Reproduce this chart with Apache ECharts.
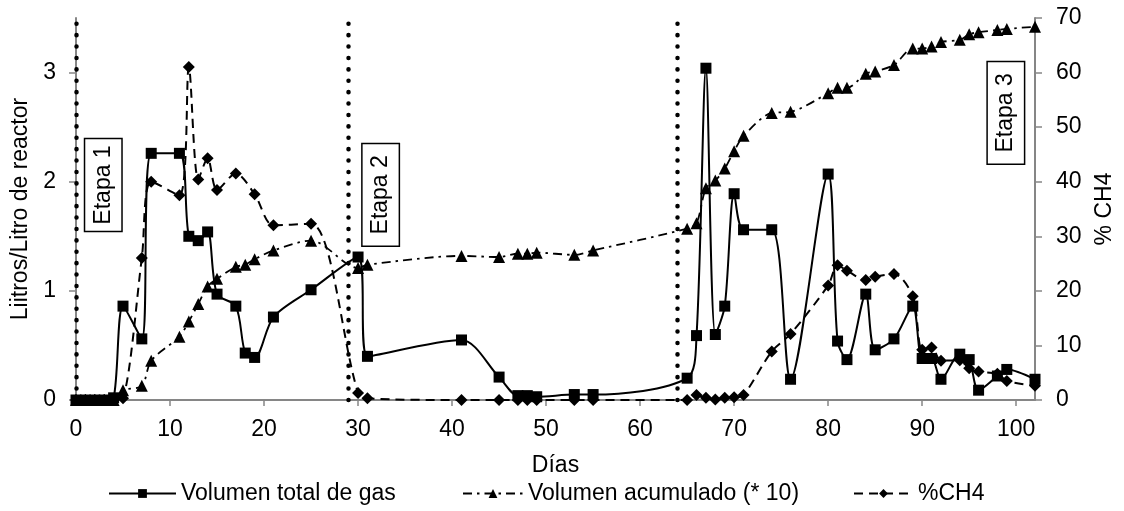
<!DOCTYPE html>
<html>
<head>
<meta charset="utf-8">
<script src="https://cdn.jsdelivr.net/npm/echarts/dist/echarts.min.js"></script>
<style>
html,body{margin:0;padding:0;background:#fff;}
#chart{width:1124px;height:511px;}
</style>
</head>
<body>
<div id="chart"></div>
<script>
// ---- data ----
const days = [0,1,2,3,4,5,7,8,11,12,13,14,15,17,18,19,21,25,30,31,41,45,47,48,49,53,55,65,66,67,68,69,70,71,74,76,80,81,82,84,85,87,89,90,91,92,94,95,96,98,99,102];
const volumenTotal = [0,0,0,0,0.02,0.86,0.56,2.26,2.26,1.5,1.46,1.54,0.97,0.86,0.43,0.39,0.76,1.01,1.31,0.4,0.55,0.21,0.04,0.04,0.03,0.05,0.05,0.2,0.59,3.04,0.6,0.86,1.89,1.56,1.56,0.19,2.07,0.54,0.37,0.97,0.46,0.56,0.86,0.38,0.38,0.19,0.42,0.37,0.09,0.22,0.28,0.19];
const volumenAcumulado = [0,0,0,0,0,0.09,0.13,0.36,0.58,0.72,0.88,1.04,1.11,1.22,1.24,1.29,1.37,1.46,1.21,1.24,1.32,1.31,1.34,1.34,1.35,1.33,1.37,1.57,1.62,1.94,2.01,2.12,2.28,2.42,2.63,2.64,2.81,2.86,2.86,2.99,3.01,3.07,3.22,3.22,3.24,3.28,3.3,3.35,3.37,3.39,3.4,3.42];
const ch4 = [0,0,0,0,0,0.3,26,40,37.5,61,40.4,44.3,38.5,41.5,null,37.7,32,32.3,1.3,0.3,0,0,0,0,0,0,0,0,0.9,0.4,0.1,0.4,0.5,0.9,8.9,12.1,21,24.7,23.7,22,22.6,23.1,19,9.2,9.6,7.2,7.3,5.8,5.2,4.8,3.5,2.6];
const stageDays = [0,29,64];
const stageLabels = ['Etapa 1','Etapa 2','Etapa 3'];
const xTicks = [0,10,20,30,40,50,60,70,80,90,100];
const leftTicks = [0,1,2,3];
const seriesNames = ['Volumen total de gas','Volumen acumulado (* 10)','%CH4'];

const pairs = vals => days.map((d,i)=>[d, vals[i]]);
const FONT = 'Liberation Sans, Arial, sans-serif';
const FS = 23;
const AXIS_GRAY = '#868686';

const chart = echarts.init(document.getElementById('chart'), null, {renderer:'canvas'});
const option = {
  animation:false,
  backgroundColor:'#fff',
  textStyle:{fontFamily:FONT},
  grid:{left:76, right:89, top:18, bottom:111, containLabel:false},
  xAxis:{
    type:'value', min:0, max:102, interval:10,
    name:'Días', nameLocation:'middle', nameGap:54,
    nameTextStyle:{fontSize:FS, color:'#000', fontFamily:FONT},
    axisLine:{show:true, lineStyle:{color:AXIS_GRAY, width:2}},
    axisTick:{show:true, length:6, customValues:xTicks, lineStyle:{color:AXIS_GRAY, width:1.5}},
    axisLabel:{customValues:xTicks, fontSize:FS, color:'#000', margin:18, fontFamily:FONT,
      formatter:v => (v % 10 === 0 ? String(v) : '')},
    splitLine:{show:false}
  },
  yAxis:[{
    type:'value', min:0, max:3.5, interval:1, position:'left',
    name:'Liitros/Litro de reactor', nameLocation:'middle', nameGap:40,
    nameTextStyle:{fontSize:FS, color:'#000', fontFamily:FONT},
    axisLine:{show:true, lineStyle:{color:AXIS_GRAY, width:2}},
    axisTick:{show:true, length:7, customValues:leftTicks, lineStyle:{color:AXIS_GRAY, width:1.5}},
    axisLabel:{customValues:leftTicks, fontSize:FS, color:'#000', margin:20, fontFamily:FONT,
      formatter:v => (Number.isInteger(v) ? String(v) : '')},
    splitLine:{show:false}
  },{
    type:'value', min:0, max:70, interval:10, position:'right',
    name:'% CH4', nameLocation:'middle', nameGap:58, nameRotate:90,
    nameTextStyle:{fontSize:FS, color:'#000', fontFamily:FONT},
    axisLine:{show:true, lineStyle:{color:AXIS_GRAY, width:2}},
    axisTick:{show:true, length:7, lineStyle:{color:AXIS_GRAY, width:1.5}},
    axisLabel:{fontSize:FS, color:'#000', margin:21, fontFamily:FONT},
    splitLine:{show:false}
  }],
  legend:[
    {data:[seriesNames[0]], left:103, top:477, itemWidth:67, itemHeight:11,
     textStyle:{fontSize:FS, color:'#000', fontFamily:FONT}},
    {data:[seriesNames[1]], left:457, top:477, itemWidth:60, itemHeight:11,
     textStyle:{fontSize:FS, color:'#000', fontFamily:FONT}},
    {data:[seriesNames[2]], left:848, top:477, itemWidth:59, itemHeight:11,
     textStyle:{fontSize:FS, color:'#000', fontFamily:FONT}}
  ],
  series:[
    {
      name:seriesNames[0], type:'line', yAxisIndex:0, data:pairs(volumenTotal),
      smooth:0.3, symbol:'rect', symbolSize:11,
      lineStyle:{color:'#000', width:2, type:'solid'},
      itemStyle:{color:'#000'}, z:4,
      markLine:{
        silent:true, symbol:['none','none'], label:{show:false},
        lineStyle:{color:'#000', width:4.5, type:[0.1,11.3], cap:'round'},
        emphasis:{disabled:true},
        data: stageDays.map(d => ({xAxis:d}))
      }
    },
    {
      name:seriesNames[1], type:'line', yAxisIndex:0, data:pairs(volumenAcumulado),
      smooth:0.3, symbol:'triangle', symbolSize:12,
      lineStyle:{color:'#000', width:1.8, type:[9,5,2.5,5]},
      itemStyle:{color:'#000'}, z:3, connectNulls:true
    },
    {
      name:seriesNames[2], type:'line', yAxisIndex:1, data:pairs(ch4),
      smooth:0.3, symbol:'diamond', symbolSize:12,
      lineStyle:{color:'#000', width:2, type:[9,6]},
      itemStyle:{color:'#000'}, z:3, connectNulls:true
    }
  ]
};
chart.setOption(option);

// stage label boxes (annotations), anchored at data positions
function stageGraphics(){
  const anchors = [[2.9, 1.97], [32.4, 1.88], [98.9, 2.63]];
  const pads = [[7,6,6,6],[7,11,6,11],[7,11,6,11]];
  return anchors.map((a,i) => {
    const p = chart.convertToPixel({xAxisIndex:0, yAxisIndex:0}, a);
    return {
      type:'text', x:p[0], y:p[1], rotation:Math.PI/2, z:10,
      style:{
        text:stageLabels[i], font:FS + 'px ' + FONT, fill:'#000',
        align:'center', verticalAlign:'middle',
        backgroundColor:'#fff', borderColor:'#000', borderWidth:1.5,
        padding:pads[i]
      }
    };
  });
}
chart.setOption({graphic:stageGraphics()});
</script>
</body>
</html>
